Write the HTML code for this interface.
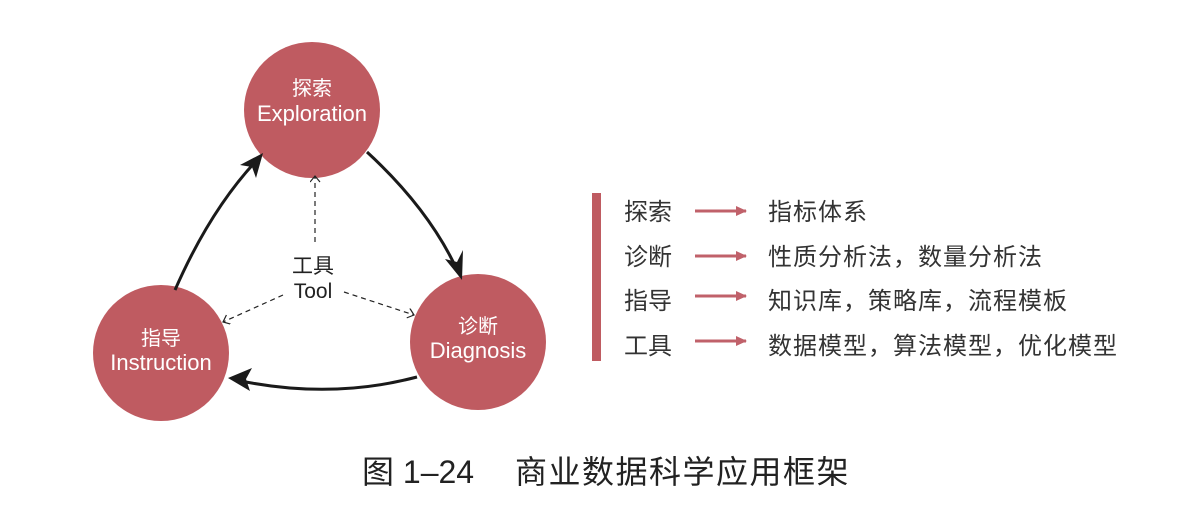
<!DOCTYPE html>
<html><head><meta charset="utf-8"><style>
body{margin:0;background:#fff;}
svg text{font-family:"Liberation Sans","Noto Sans CJK SC",sans-serif;}
</style></head><body>
<svg width="1190" height="524" viewBox="0 0 1190 524" xmlns="http://www.w3.org/2000/svg">
<defs>
<marker id="da" markerWidth="12" markerHeight="12" refX="7" refY="5" orient="auto" markerUnits="userSpaceOnUse"><path d="M1,0 L7,5 L1,10" fill="none" stroke="#222" stroke-width="1.2"/></marker>
<marker id="ra" markerWidth="12" markerHeight="12" refX="10" refY="6" orient="auto" markerUnits="userSpaceOnUse"><path d="M0,1 L11,6 L0,11 Z" fill="#c0616a"/></marker>
</defs>
<g fill="#bf5b61">
<circle cx="312" cy="110" r="68"/>
<circle cx="478" cy="342" r="68"/>
<circle cx="161" cy="353" r="68"/>
</g>
<g fill="#fff" text-anchor="middle" font-size="22">
<text x="312" y="95" font-size="20">探索</text><text x="312" y="121">Exploration</text>
<text x="478" y="333" font-size="20">诊断</text><text x="478" y="358">Diagnosis</text>
<text x="161" y="345" font-size="20">指导</text><text x="161" y="370">Instruction</text>
</g>
<g fill="none" stroke="#1a1a1a" stroke-width="3">
<path d="M367,152 Q430,210 458,272"/>
<path d="M417,377 Q330,400 236,380"/>
<path d="M175,290 Q210,210 257,160"/>
</g>
<g fill="#1a1a1a">
<path d="M462,280 L445,259 L457,262 L463,250 Z"/>
<path d="M228,378 L252,368 L246,379 L250,391 Z"/>
<path d="M263,153 L256,178 L252,167 L240,165 Z"/>
</g>
<g fill="none" stroke="#222" stroke-width="1.2" stroke-dasharray="5,4">
<path d="M315,242 L315,176" marker-end="url(#da)"/>
<path d="M283,295 L223,322" marker-end="url(#da)"/>
<path d="M344,292 L414,315" marker-end="url(#da)"/>
</g>
<g fill="#222" font-size="21" text-anchor="middle">
<text x="313" y="273">工具</text><text x="313" y="298">Tool</text>
</g>
<rect x="592" y="193" width="9" height="168" fill="#bf5b61"/>
<g font-size="24" fill="#333">
<text x="624" y="220">探索</text><text x="768" y="220" letter-spacing="1">指标体系</text>
<text x="624" y="265">诊断</text><text x="768" y="265" letter-spacing="1">性质分析法，数量分析法</text>
<text x="624" y="309">指导</text><text x="768" y="309" letter-spacing="1">知识库，策略库，流程模板</text>
<text x="624" y="354">工具</text><text x="768" y="354" letter-spacing="1">数据模型，算法模型，优化模型</text>
</g>
<g stroke="#c0616a" stroke-width="3" marker-end="url(#ra)">
<line x1="695" y1="211" x2="746" y2="211"/>
<line x1="695" y1="256" x2="746" y2="256"/>
<line x1="695" y1="296" x2="746" y2="296"/>
<line x1="695" y1="341" x2="746" y2="341"/>
</g>
<text x="362" y="483" font-size="32" fill="#222">图 1–24</text>
<text x="515" y="483" font-size="32" fill="#222" letter-spacing="1.5">商业数据科学应用框架</text>
</svg>
</body></html>
